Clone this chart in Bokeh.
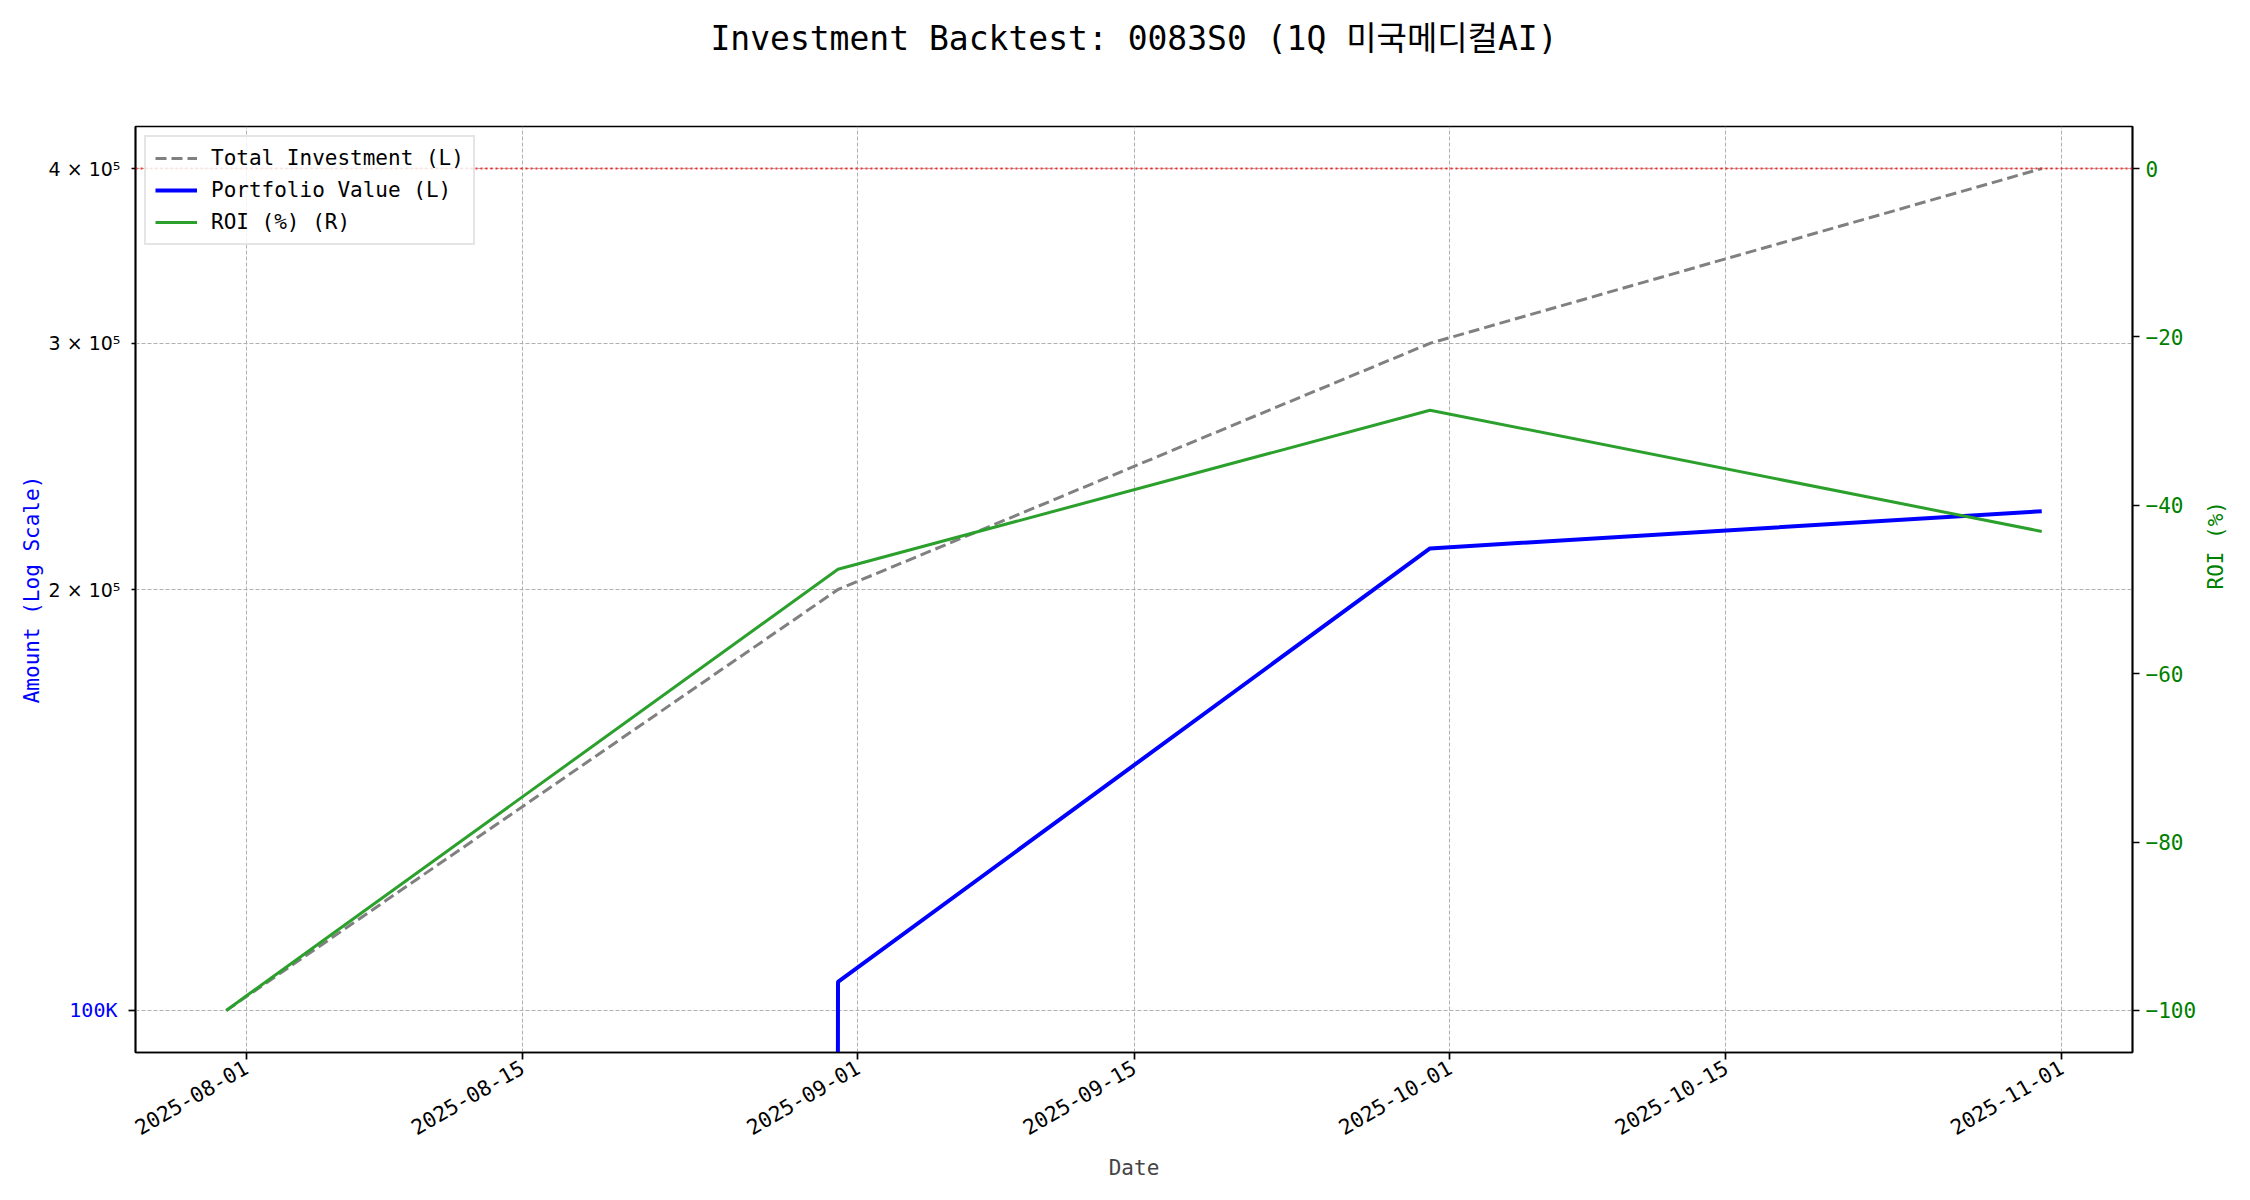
import math
import numpy as np
import pandas as pd
from bokeh.plotting import figure
from bokeh.models import (Range1d, LinearScale, LinearAxis, LogAxis, FixedTicker,
                          DatetimeTickFormatter, Span, Legend, LegendItem, Title)
from bokeh.embed import file_html
from bokeh.resources import INLINE

# ---------------- data ----------------
dates = ["2025-07-31", "2025-08-31", "2025-09-30", "2025-10-31"]
total_investment = [100000, 200000, 300000, 400000]
portfolio_value = [0, 104800, 214000, 227500]
roi_pct = [-100.0, -47.6, -28.7, -43.1]

x_tick_dates = ["2025-08-01", "2025-08-15", "2025-09-01", "2025-09-15",
                "2025-10-01", "2025-10-15", "2025-11-01"]
left_major_ticks = [100000]
left_major_labels = ["100K"]
left_minor_ticks = [200000, 300000, 400000]
left_minor_labels = ["2 × 10⁵", "3 × 10⁵", "4 × 10⁵"]
right_ticks = [-100, -80, -60, -40, -20, 0]

title_text = "Investment Backtest: 0083S0 (1Q 미국메디컬AI)"

FONT = "DejaVu Sans Mono, Noto Sans CJK KR"

# ---------------- ranges ----------------
dt = pd.to_datetime(dates)
span = dt[-1] - dt[0]
x_start = dt[0] - span * 0.05
x_end = dt[-1] + span * 0.05

pos_vals = [v for v in total_investment + portfolio_value if v > 0]
lo, hi = min(pos_vals), max(pos_vals)
ratio = (hi / lo) ** 0.05
y_lo, y_hi = lo / ratio, hi * ratio

r_lo, r_hi = min(roi_pct), max(max(roi_pct), 0)
r_pad = (r_hi - r_lo) * 0.05

p = figure(width=2250, height=1184, output_backend="svg", toolbar_location=None,
           x_axis_type="datetime", y_axis_type="log",
           x_range=Range1d(x_start, x_end), y_range=Range1d(y_lo, y_hi),
           min_border_left=135, min_border_right=118, min_border_bottom=132,
           min_border_top=126)

p.extra_y_ranges = {"roi": Range1d(r_lo - r_pad, r_hi + r_pad)}
p.extra_y_scales = {"roi": LinearScale()}

p.background_fill_color = "white"
p.border_fill_color = "white"
p.outline_line_color = "black"
p.outline_line_width = 1.7
p.outline_line_alpha = 1.0

# spacer between the frame and the title (keeps the title near the top edge)
p.add_layout(Title(text=" ", text_font_size="1px", standoff=66), "above")

# title
p.title.text = title_text
p.title.align = "center"
p.title.text_font = FONT
p.title.text_font_size = "33px"
p.title.text_font_style = "normal"
p.title.text_color = "black"
p.title.standoff = 0

# ---------------- x axis ----------------
xt = [int(pd.Timestamp(d).value // 10**6) for d in x_tick_dates]
xa = p.xaxis[0]
xa.ticker = FixedTicker(ticks=xt)
fmt = "%Y-%m-%d"
xa.formatter = DatetimeTickFormatter(milliseconds=fmt, seconds=fmt, minsec=fmt, minutes=fmt,
                                     hourmin=fmt, hours=fmt, days=fmt, months=fmt, years=fmt)
xa.major_label_orientation = math.pi / 6
xa.major_label_text_font = FONT
xa.major_label_text_font_size = "21px"
xa.major_label_text_color = "black"
xa.axis_label = "Date"
xa.axis_label_text_font = FONT
xa.axis_label_text_font_size = "21px"
xa.axis_label_text_font_style = "normal"
xa.axis_label_standoff = 10
xa.major_tick_out = 7
xa.major_tick_in = 0
xa.minor_tick_line_color = None
xa.axis_line_color = "black"
xa.axis_line_width = 1.7
xa.major_tick_line_width = 1.7
xa.major_label_standoff = 6

# ---------------- left axis (inner: ticks + black labels) ----------------
ya = p.yaxis[0]
ya.ticker = FixedTicker(ticks=left_minor_ticks, minor_ticks=left_major_ticks)
ya.major_label_overrides = {int(t): lab for t, lab in zip(left_minor_ticks, left_minor_labels)}
ya.major_label_text_font = "DejaVu Sans"
ya.major_label_text_font_size = "19px"
ya.major_label_text_color = "black"
ya.major_tick_out = 4
ya.major_tick_in = 0
ya.major_tick_line_width = 1.5
ya.minor_tick_out = 7
ya.minor_tick_in = 0
ya.minor_tick_line_color = "black"
ya.minor_tick_line_width = 1.7
ya.axis_line_color = "black"
ya.axis_line_width = 1.7
ya.major_label_standoff = 8

p.ygrid[0].ticker = FixedTicker(ticks=left_major_ticks + left_minor_ticks)

# ---------------- left axis (outer: blue major label + axis title) ----------------
yb = LogAxis(ticker=FixedTicker(ticks=left_major_ticks))
yb.major_label_overrides = {int(t): lab for t, lab in zip(left_major_ticks, left_major_labels)}
yb.major_label_text_font = FONT
yb.major_label_text_font_size = "20px"
yb.major_label_text_color = "blue"
yb.major_tick_out = 0
yb.major_tick_in = 0
yb.major_tick_line_color = None
yb.minor_tick_line_color = None
yb.axis_line_color = None
yb.major_label_standoff = -72
yb.axis_label = "Amount (Log Scale)"
yb.axis_label_text_font = FONT
yb.axis_label_text_font_size = "21px"
yb.axis_label_text_font_style = "normal"
yb.axis_label_text_color = "blue"
yb.axis_label_standoff = 22
p.add_layout(yb, "left")

# ---------------- right axis ----------------
ra = LinearAxis(y_range_name="roi", ticker=FixedTicker(ticks=right_ticks))
ra.major_label_text_font = FONT
ra.major_label_text_font_size = "21px"
ra.major_label_text_color = "green"
ra.axis_label = "ROI (%)"
ra.axis_label_orientation = math.pi / 2
ra.axis_label_text_font = FONT
ra.axis_label_text_font_size = "21px"
ra.axis_label_text_font_style = "normal"
ra.axis_label_text_color = "green"
ra.axis_label_standoff = 17
ra.major_tick_out = 7
ra.major_tick_in = 0
ra.minor_tick_line_color = None
ra.axis_line_color = "black"
ra.axis_line_width = 1.7
ra.major_tick_line_width = 1.7
ra.major_label_standoff = 6
p.add_layout(ra, "right")

# ---------------- grid ----------------
for g in (p.xgrid[0], p.ygrid[0]):
    g.grid_line_color = "#b0b0b0"
    g.grid_line_dash = "4 2"
    g.grid_line_width = 1
    g.grid_line_alpha = 1.0

# ---------------- lines ----------------
# log axis: non-positive values clipped to a tiny positive number (as a log plot does)
pv_plot = np.clip(np.array(portfolio_value, dtype=float), 1e-300, None)

r_inv = p.line(dt, total_investment, line_color="gray", line_width=3, line_dash="11 5")
r_pv = p.line(dt, pv_plot, line_color="blue", line_width=4)
r_roi = p.line(dt, roi_pct, line_color="#2ca02c", line_width=3, y_range_name="roi")

p.add_layout(Span(location=0, dimension="width", y_range_name="roi", line_color="red",
                  line_dash="2 3", line_width=2, line_alpha=0.8))

legend = Legend(items=[
    LegendItem(label="Total Investment (L)", renderers=[r_inv]),
    LegendItem(label="Portfolio Value (L)", renderers=[r_pv]),
    LegendItem(label="ROI (%) (R)", renderers=[r_roi]),
], location="top_left")
legend.label_text_font = FONT
legend.label_text_font_size = "21px"
legend.label_text_color = "black"
legend.glyph_width = 42
legend.glyph_height = 24
legend.label_height = 24
legend.spacing = 8
legend.padding = 9
legend.margin = 9
legend.border_line_color = "#cccccc"
legend.border_line_width = 2
legend.background_fill_alpha = 0.85
legend.label_standoff = 14
p.add_layout(legend)

open("out.html", "w").write(file_html(p, INLINE))
